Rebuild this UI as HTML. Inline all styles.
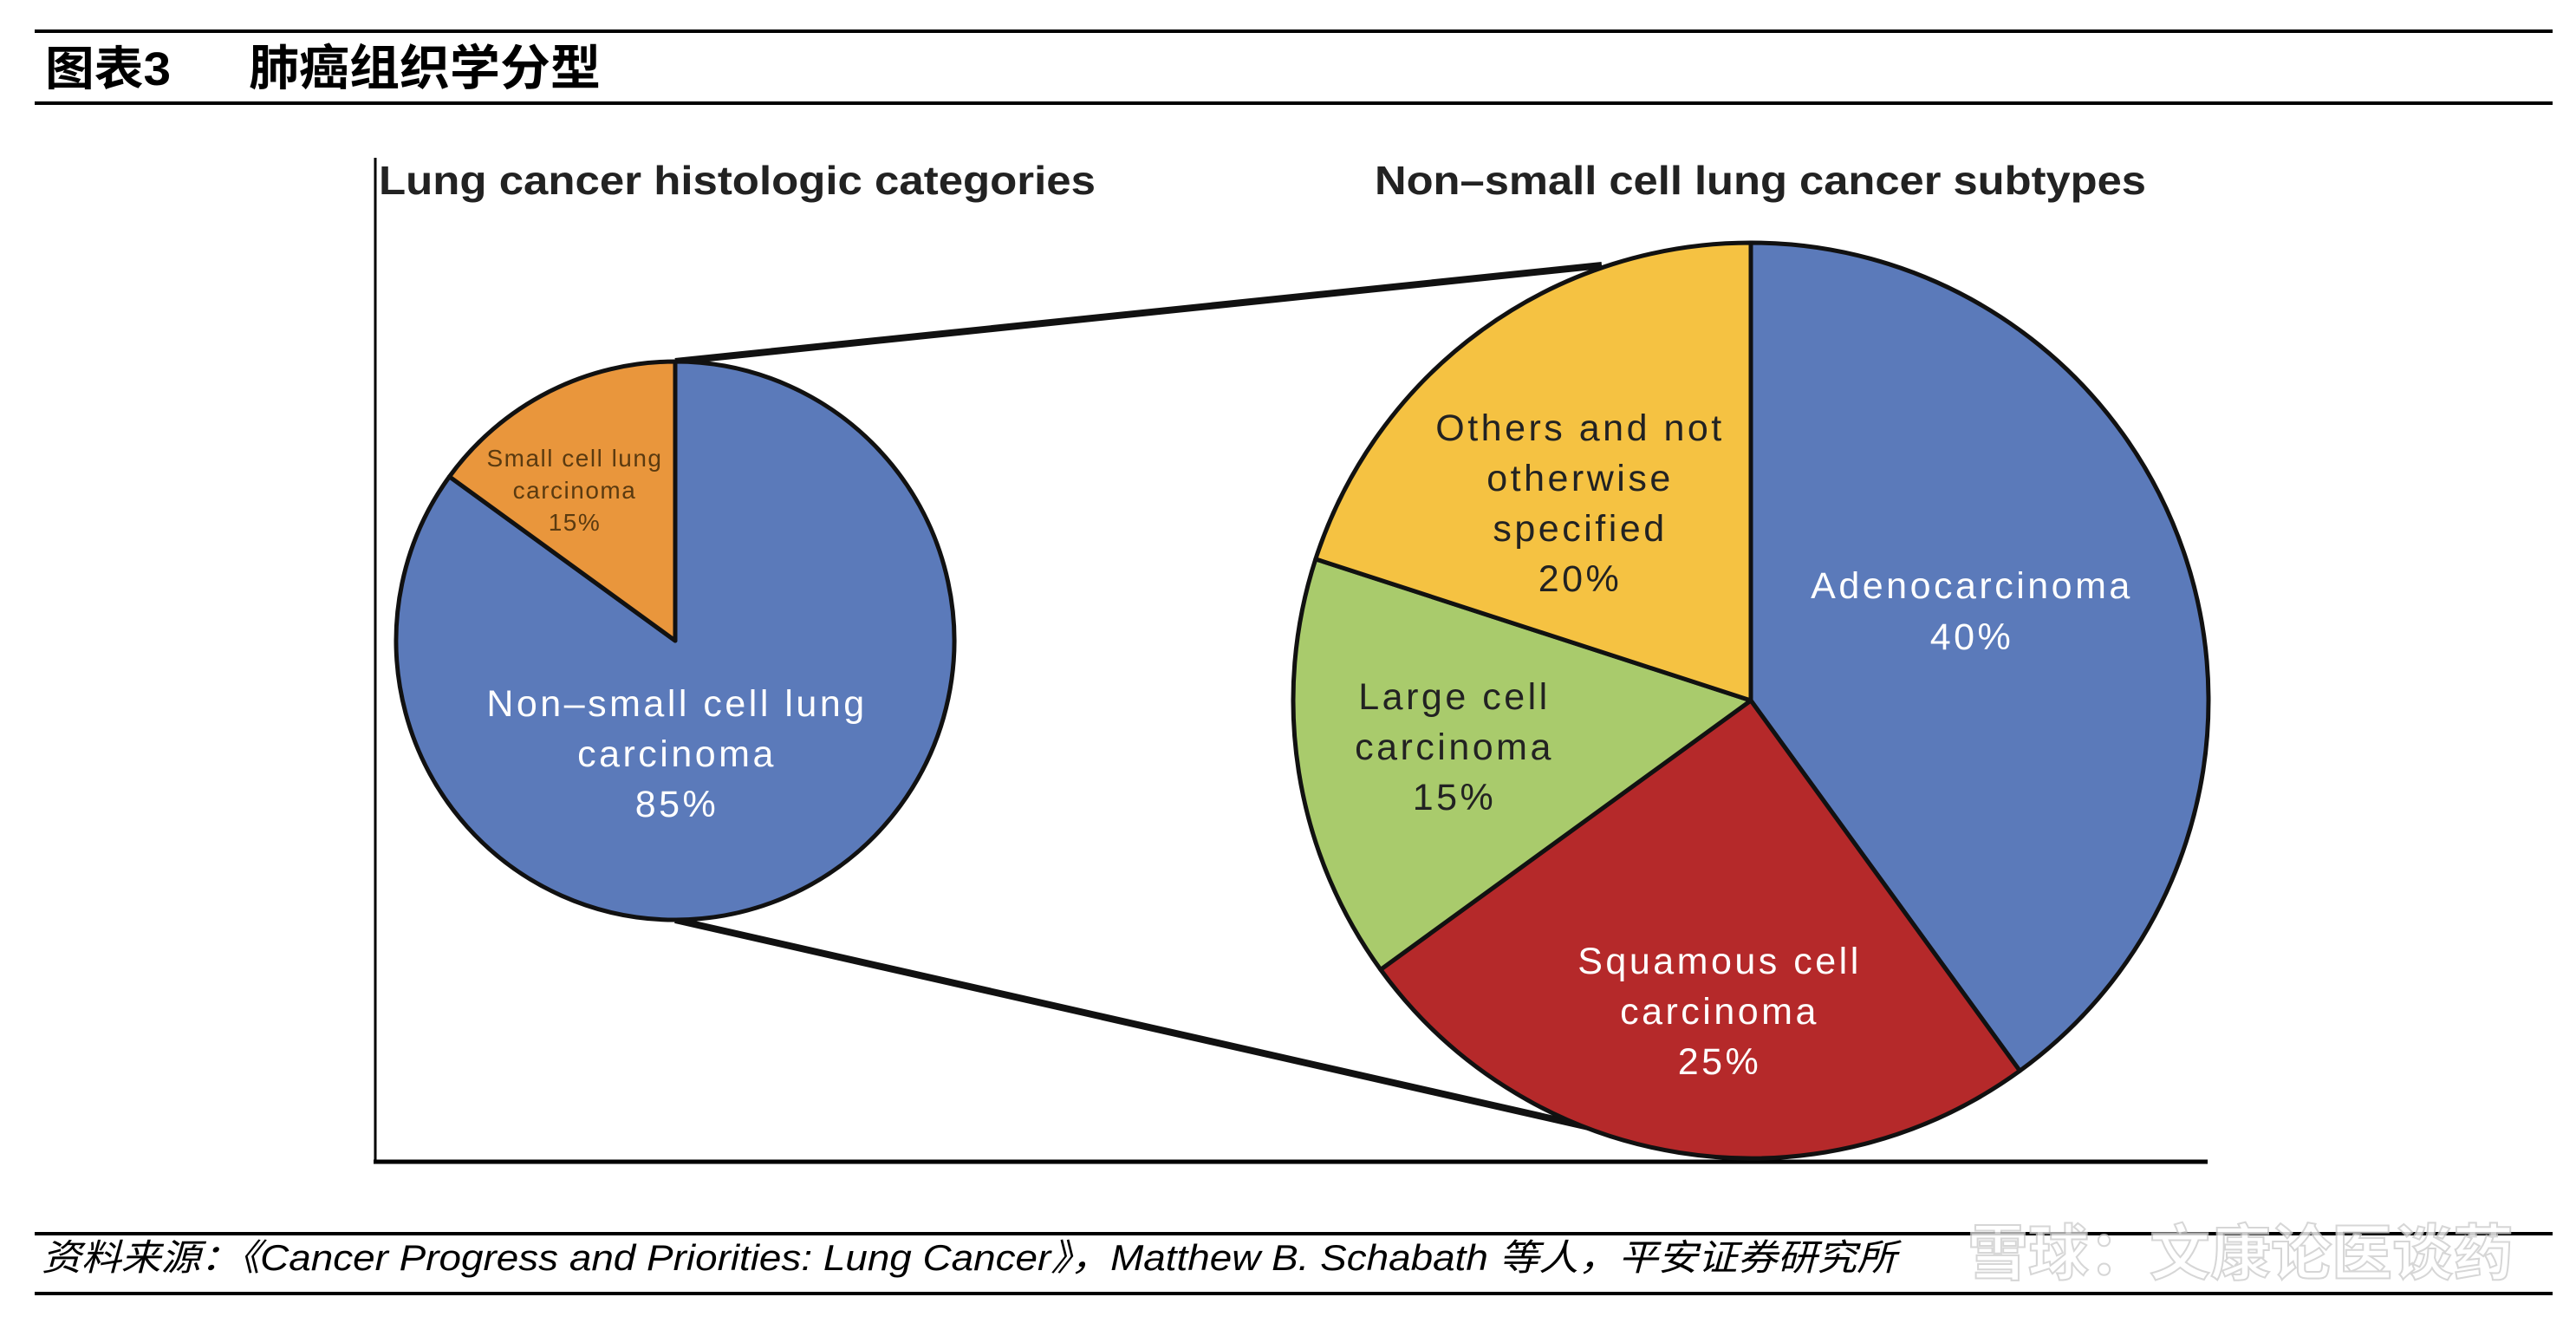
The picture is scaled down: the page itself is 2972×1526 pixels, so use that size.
<!DOCTYPE html>
<html><head><meta charset="utf-8"><style>
html,body{margin:0;padding:0;background:#fff;}
svg{display:block;}
</style></head><body>
<svg id="chart" width="2972" height="1526" viewBox="0 0 2972 1526" xmlns="http://www.w3.org/2000/svg" font-family="Liberation Sans, Noto Sans CJK SC, sans-serif">
<rect width="2972" height="1526" fill="#fff"/>
<line x1="40" y1="36" x2="2945" y2="36" stroke="#000" stroke-width="4"/>
<text x="52" y="98" font-size="54" font-weight="bold" textLength="145" lengthAdjust="spacingAndGlyphs">图表3</text>
<text x="287" y="98" font-size="56" font-weight="bold" textLength="406" lengthAdjust="spacingAndGlyphs">肺癌组织学分型</text>
<line x1="40" y1="119" x2="2945" y2="119" stroke="#000" stroke-width="4"/>
<line x1="433" y1="182" x2="433" y2="1342" stroke="#000" stroke-width="3"/>
<line x1="431" y1="1340" x2="2547" y2="1340" stroke="#000" stroke-width="5"/>
<text x="437" y="224" font-size="46" font-weight="bold" fill="#222" textLength="827" lengthAdjust="spacingAndGlyphs">Lung cancer histologic categories</text>
<text x="1586" y="224" font-size="46" font-weight="bold" fill="#222" textLength="890" lengthAdjust="spacingAndGlyphs">Non–small cell lung cancer subtypes</text>
<line x1="779" y1="417" x2="1848" y2="306" stroke="#111" stroke-width="8"/>
<line x1="779" y1="1061" x2="1877" y2="1310" stroke="#111" stroke-width="8"/>
<g id="pies"></g>
<line x1="40" y1="1423" x2="2945" y2="1423" stroke="#000" stroke-width="4"/>
<text x="48" y="1465" font-size="42" font-style="italic" fill="#000" textLength="2140" lengthAdjust="spacingAndGlyphs">资料来源：《Cancer Progress and Priorities: Lung Cancer》，Matthew B. Schabath 等人，平安证券研究所</text>
<text x="2900" y="1470" font-size="70" font-weight="bold" fill="#fff" stroke="#ccc" stroke-width="2" text-anchor="end" opacity="0.8">雪球：文康论医谈药</text>
<line x1="40" y1="1492" x2="2945" y2="1492" stroke="#000" stroke-width="4"/>
</svg>
<script>
const leftCategories = ["Non–small cell lung carcinoma", "Small cell lung carcinoma"];
const leftValues = [85, 15];
const leftColors = ["#5b7aba", "#e9963c"];
const rightCategories = ["Adenocarcinoma", "Squamous cell carcinoma", "Large cell carcinoma", "Others and not otherwise specified"];
const rightValues = [40, 25, 15, 20];
const rightColors = ["#5b7aba", "#b5292a", "#a9cb6c", "#f5c242"];

const NS = "http://www.w3.org/2000/svg";
const g = document.getElementById("pies");

function pt(cx, cy, r, frac) {
  const a = frac * 2 * Math.PI;
  return [cx + r * Math.sin(a), cy - r * Math.cos(a)];
}
function drawPie(cx, cy, r, values, colors, startFrac, names) {
  const total = values.reduce((a, b) => a + b, 0);
  let acc = startFrac;
  values.forEach((v, i) => {
    const f = v / total;
    const p0 = pt(cx, cy, r, acc), p1 = pt(cx, cy, r, acc + f);
    const large = f > 0.5 ? 1 : 0;
    const path = document.createElementNS(NS, "path");
    path.setAttribute("d", `M${cx},${cy} L${p0[0]},${p0[1]} A${r},${r} 0 ${large} 1 ${p1[0]},${p1[1]} Z`);
    path.setAttribute("fill", colors[i]);
    path.setAttribute("stroke", "#111");
    path.setAttribute("stroke-width", "5");
    path.setAttribute("stroke-linejoin", "round");
    
    
    g.appendChild(path);
    acc += f;
  });
}
drawPie(779, 739, 322, leftValues, leftColors, 0, ["slice-non-small-cell", "slice-small-cell"]);
drawPie(2020, 808, 528, rightValues, rightColors, 0, ["slice-adenocarcinoma", "slice-squamous", "slice-large-cell", "slice-others"]);

function label(x, y, lines, size, gap, fill, spacing, name) {
  const t = document.createElementNS(NS, "text");
  t.setAttribute("x", x); t.setAttribute("y", y);
  t.setAttribute("font-size", size);
  t.setAttribute("fill", fill);
  t.setAttribute("letter-spacing", spacing);
  t.setAttribute("text-anchor", "middle");
  
  
  lines.forEach((s, i) => {
    const ts = document.createElementNS(NS, "tspan");
    ts.setAttribute("x", x);
    ts.setAttribute("y", y + i * gap);
    ts.textContent = s;
    t.appendChild(ts);
  });
  g.appendChild(t);
}
label(781, 826, ["Non–small cell lung", "carcinoma", leftValues[0] + "%"], 43, 58, "#fff", 3.5, "label-non-small-cell");
label(663, 538, ["Small cell lung", "carcinoma", leftValues[1] + "%"], 28, 37, "#5a3a10", 1.5, "label-small-cell");
label(2275, 690, ["Adenocarcinoma", rightValues[0] + "%"], 43, 59, "#fff", 3.5, "label-adenocarcinoma");
label(1984, 1123, ["Squamous cell", "carcinoma", rightValues[1] + "%"], 43, 58, "#fff", 3.5, "label-squamous");
label(1678, 818, ["Large cell", "carcinoma", rightValues[2] + "%"], 43, 58, "#222", 3.5, "label-large-cell");
label(1823, 508, ["Others and not", "otherwise", "specified", rightValues[3] + "%"], 43, 58, "#222", 3.5, "label-others");
</script>
</body></html>
